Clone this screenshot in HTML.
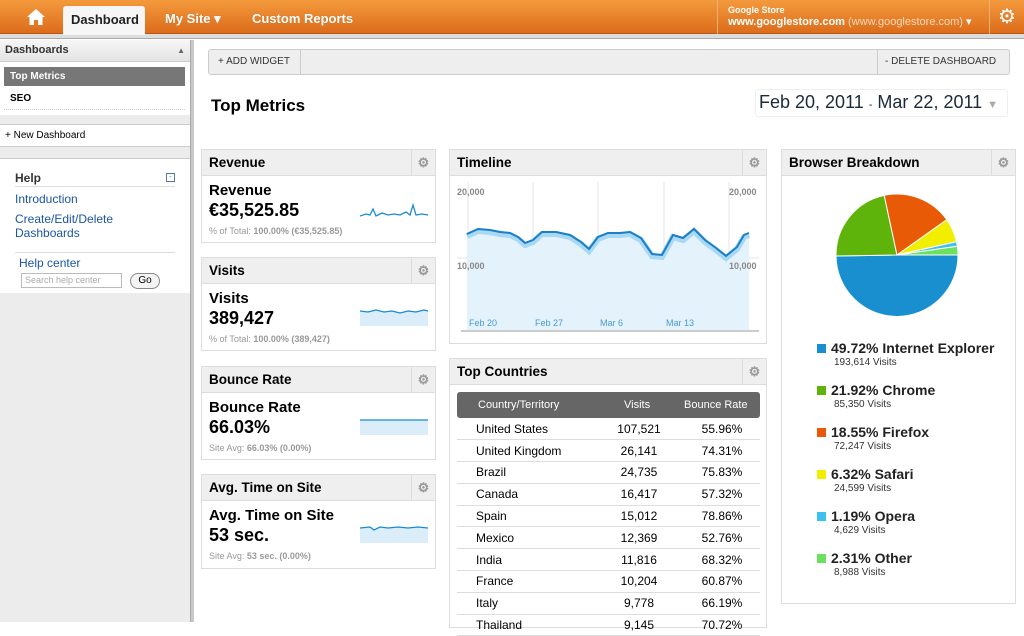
<!DOCTYPE html>
<html><head><meta charset="utf-8"><style>
*{box-sizing:border-box;margin:0;padding:0}
body{width:1024px;height:622px;overflow:hidden;font-family:"Liberation Sans",Arial,sans-serif;background:#fff;position:relative;color:#000}
.a{position:absolute}
.top{left:0;top:0;width:1024px;height:34px;background:linear-gradient(#f39a3c,#dc6c1c);border-bottom:1px solid #b85a15}
.strip{left:0;top:34px;width:1024px;height:5px;background:#ddd;border-bottom:1px solid #aaa}
.nav{color:#fff;font-size:13px;font-weight:bold;top:11px;text-shadow:0 0 1px rgba(0,0,0,.2)}
.w{border:1px solid #ddd;background:#fff}
.wh{background:#efefef;border-bottom:1px solid #ddd;height:26px;font-weight:bold;font-size:13.5px;padding:5px 7px}
.gear{position:absolute;right:0;top:0;width:24px;height:25px;border-left:1px solid #ddd;color:#999;font-size:13px;text-align:center;line-height:25px}
.mt{font-weight:bold;font-size:15px}
.mv{font-weight:bold;font-size:18px;margin-top:1px}
.ms{font-size:9px;color:#999;margin-top:5px}
.ms b{color:#999}
table{border-collapse:collapse;font-size:12px}
td{height:21.8px;border-bottom:1px solid #ddd}
.lg{font-weight:bold;font-size:14px;color:#222}
.lg i{display:inline-block;width:9px;height:9px;margin-right:5px}
.ls{font-size:10px;color:#333;margin-left:17px;margin-top:1px}
a{color:#1a55a3}
</style></head><body>
<div class="a top"></div>
<div class="a strip"></div>
<svg class="a" style="left:26px;top:8px" width="20" height="18" viewBox="0 0 20 18"><path d="M10 1 L1 9 L3.5 9 L3.5 17 L8 17 L8 12 L12 12 L12 17 L16.5 17 L16.5 9 L19 9 Z" fill="#fff"/></svg>
<div class="a" style="left:63px;top:6px;width:82px;height:29px;background:#f6f6f6;border-radius:3px 3px 0 0"></div>
<div class="a" style="left:71px;top:12px;font-size:13px;font-weight:bold;color:#222">Dashboard</div>
<div class="a nav" style="left:165px">My Site ▾</div>
<div class="a nav" style="left:252px">Custom Reports</div>
<div class="a" style="left:717px;top:0;width:1px;height:34px;background:#f7b070"></div>
<div class="a" style="left:728px;top:5px;color:#fff;font-size:9px;font-weight:bold">Google Store</div>
<div class="a" style="left:728px;top:15px;color:#fff;font-size:11px"><b>www.googlestore.com</b> <span style="color:#fbd9bb">(www.googlestore.com)</span> ▾</div>
<div class="a" style="left:989px;top:0;width:1px;height:34px;background:#f7b070"></div>
<div class="a" style="left:998px;top:4px;color:#fff;font-size:20px">⚙</div>

<!-- sidebar -->
<div class="a" style="left:0;top:40px;width:190px;height:582px;background:#ececec"></div>
<div class="a" style="left:190px;top:40px;width:4px;height:582px;background:#c8c8c8;border-left:1px solid #aaa"></div>
<div class="a" style="left:0;top:40px;width:190px;height:22px;background:linear-gradient(#f6f6f6,#e4e4e4);border-bottom:1px solid #ccc;font-size:11px;font-weight:bold;padding:4px 5px;color:#333">Dashboards<span style="float:right;font-size:8px;color:#666;margin-top:2px">▲</span></div>
<div class="a" style="left:0;top:62px;width:190px;height:53px;background:#fff"></div>
<div class="a" style="left:4px;top:67px;width:181px;height:19px;background:#777;color:#fff;font-size:10px;font-weight:bold;padding:4px 6px">Top Metrics</div>
<div class="a" style="left:10px;top:93px;font-size:10px;font-weight:bold">SEO</div>
<div class="a" style="left:4px;top:109px;width:181px;border-top:1px dotted #ccc"></div>
<div class="a" style="left:0;top:124px;width:190px;height:23px;background:#fff;border-top:1px solid #ccc;border-bottom:1px solid #ccc;font-size:10px;padding:5px 5px">+ New Dashboard</div>
<div class="a" style="left:0;top:158px;width:190px;height:135px;background:#fff;border-top:1px solid #ccc"></div>
<div class="a" style="left:15px;top:171px;font-size:12px;font-weight:bold;color:#333">Help</div>
<div class="a" style="left:166px;top:173px;width:9px;height:9px;border:1px solid #5577aa;font-size:8px;line-height:6px;text-align:center;color:#5577aa">-</div>
<div class="a" style="left:15px;top:186px;width:160px;border-top:1px solid #ddd"></div>
<div class="a" style="left:15px;top:192px;font-size:12px;line-height:14px"><a>Introduction</a><br><div style="height:6px"></div><a>Create/Edit/Delete</a><br><a>Dashboards</a></div>
<div class="a" style="left:15px;top:252px;width:160px;border-top:1px solid #ddd"></div>
<div class="a" style="left:19px;top:256px;font-size:12px"><a>Help center</a></div>
<div class="a" style="left:21px;top:273px;width:101px;height:15px;border:1px solid #bbb;font-size:9px;color:#aaa;padding:1px 3px">Search help center</div>
<div class="a" style="left:130px;top:273px;width:30px;height:16px;border:1px solid #888;border-radius:8px;font-size:10px;text-align:center;line-height:14px;background:#f4f4f4">Go</div>

<!-- toolbar -->
<div class="a" style="left:208px;top:49px;width:802px;height:26px;background:#eee;border:1px solid #ccc;border-radius:3px"></div>
<div class="a" style="left:218px;top:56px;font-size:10px;color:#333">+ ADD WIDGET</div>
<div class="a" style="left:300px;top:50px;width:1px;height:24px;background:#ccc"></div>
<div class="a" style="left:877px;top:50px;width:1px;height:24px;background:#ccc"></div>
<div class="a" style="left:885px;top:56px;font-size:10px;color:#333">- DELETE DASHBOARD</div>
<div class="a" style="left:211px;top:96px;font-size:17px;font-weight:bold">Top Metrics</div>
<div class="a" style="left:755px;top:89px;width:253px;height:28px;border:1px solid #eee;border-radius:3px"></div>
<div class="a" style="left:759px;top:92px;font-size:18px;color:#1a2a3a">Feb 20, 2011 <span style="font-size:11px">-</span> Mar 22, 2011 <span style="color:#aaa;font-size:11px">▼</span></div>

<!-- left metric widgets -->
<div class="a w" style="left:201px;top:149px;width:235px;height:94px"><div class="wh" style="position:relative">Revenue<div class="gear">⚙</div></div>
<div style="padding:6px 7px"><div class="mt">Revenue</div><div class="mv">€35,525.85</div><div class="ms">% of Total: <b>100.00% (€35,525.85)</b></div></div>
<svg class="a" style="left:156px;top:48px" width="72" height="24"><polyline points="2,18 8,16 12,17 15,11 18,18 24,15 30,17 36,16 42,17 48,14 52,17 55,7 58,17 64,16 70,17" fill="none" stroke="#1a8ad4" stroke-width="1.3"/></svg></div>

<div class="a w" style="left:201px;top:257px;width:235px;height:94px"><div class="wh" style="position:relative">Visits<div class="gear">⚙</div></div>
<div style="padding:6px 7px"><div class="mt">Visits</div><div class="mv">389,427</div><div class="ms">% of Total: <b>100.00% (389,427)</b></div></div>
<svg class="a" style="left:156px;top:48px" width="72" height="24"><polygon points="2,5 10,6 18,4 26,6 34,5 42,7 50,5 58,6 66,4 70,5 70,20 2,20" fill="#dcedfa"/><polyline points="2,5 10,6 18,4 26,6 34,5 42,7 50,5 58,6 66,4 70,5" fill="none" stroke="#1a8ad4" stroke-width="1.3"/></svg></div>

<div class="a w" style="left:201px;top:366px;width:235px;height:94px"><div class="wh" style="position:relative">Bounce Rate<div class="gear">⚙</div></div>
<div style="padding:6px 7px"><div class="mt">Bounce Rate</div><div class="mv">66.03%</div><div class="ms">Site Avg: <b>66.03% (0.00%)</b></div></div>
<svg class="a" style="left:156px;top:48px" width="72" height="24"><rect x="2" y="5" width="68" height="15" fill="#dcedfa"/><line x1="2" y1="5" x2="70" y2="5" stroke="#1a8ad4" stroke-width="1.3"/></svg></div>

<div class="a w" style="left:201px;top:474px;width:235px;height:95px"><div class="wh" style="position:relative">Avg. Time on Site<div class="gear">⚙</div></div>
<div style="padding:6px 7px"><div class="mt">Avg. Time on Site</div><div class="mv">53 sec.</div><div class="ms">Site Avg: <b>53 sec. (0.00%)</b></div></div>
<svg class="a" style="left:156px;top:48px" width="72" height="24"><polygon points="2,5 12,4 16,7 22,4 30,5 40,4 50,5 60,4 70,5 70,20 2,20" fill="#dcedfa"/><polyline points="2,5 12,4 16,7 22,4 30,5 40,4 50,5 60,4 70,5" fill="none" stroke="#1a8ad4" stroke-width="1.3"/></svg></div>

<!-- timeline -->
<div class="a w" style="left:449px;top:149px;width:318px;height:195px"><div class="wh" style="position:relative">Timeline<div class="gear">⚙</div></div></div>
<svg class="a" style="left:449px;top:175px" width="318" height="168">
<g stroke="#e4e4e4" stroke-width="1"><line x1="19" y1="7" x2="19" y2="156"/><line x1="84" y1="7" x2="84" y2="156"/><line x1="149" y1="7" x2="149" y2="156"/><line x1="215" y1="7" x2="215" y2="156"/><line x1="280" y1="7" x2="280" y2="156"/><line x1="8" y1="83" x2="310" y2="83"/></g>
<polygon fill="#e3f2fb" points="18,59 29,54 41,55 51,57 61,58 69,62 76,68 84,65 93,57 107,57 121,60 132,67 140,74 149,62 159,58 171,58 181,57 192,63 203,79 213,80 224,60 234,63 245,54 256,65 267,73 277,81 288,72 295,60 300,58 300,156 18,156"/>
<polyline fill="none" stroke="#a8d8f3" stroke-width="6" points="18,61 29,56 41,57 51,59 61,60 69,64 76,70 84,67 93,59 107,59 121,62 132,69 140,76 149,64 159,60 171,60 181,59 192,65 203,81 213,82 224,62 234,65 245,56 256,67 267,75 277,83 288,74 295,62 300,60"/>
<polyline fill="none" stroke="#1a7fc4" stroke-width="2" points="18,59 29,54 41,55 51,57 61,58 69,62 76,68 84,65 93,57 107,57 121,60 132,67 140,74 149,62 159,58 171,58 181,57 192,63 203,79 213,80 224,60 234,63 245,54 256,65 267,73 277,81 288,72 295,60 300,58"/>
<line x1="12" y1="156" x2="310" y2="156" stroke="#ccc" stroke-width="2"/>
<g font-size="9" fill="#888" font-weight="bold" font-family="Liberation Sans"><text x="8" y="20">20,000</text><text x="280" y="20">20,000</text><text x="8" y="94">10,000</text><text x="280" y="94">10,000</text></g>
<g font-size="9" fill="#4a9ad4" font-family="Liberation Sans"><text x="20" y="151">Feb 20</text><text x="86" y="151">Feb 27</text><text x="151" y="151">Mar 6</text><text x="217" y="151">Mar 13</text></g>
</svg>

<!-- top countries -->
<div class="a w" style="left:449px;top:358px;width:318px;height:270px"><div class="wh" style="position:relative">Top Countries<div class="gear">⚙</div></div></div>
<div class="a" style="left:457px;top:392px;width:303px;height:26px;background:#666;border-radius:3px;color:#fff;font-size:11px"><span class="a" style="left:21px;top:7px">Country/Territory</span><span class="a" style="left:167px;top:7px">Visits</span><span class="a" style="left:227px;top:7px">Bounce Rate</span></div>
<table class="a" style="left:457px;top:418px;width:303px">
<colgroup><col style="width:137px"><col style="width:90px"><col></colgroup>
<tr><td style="padding-left:19px">United States</td><td align="center">107,521</td><td align="center">55.96%</td></tr>
<tr><td style="padding-left:19px">United Kingdom</td><td align="center">26,141</td><td align="center">74.31%</td></tr>
<tr><td style="padding-left:19px">Brazil</td><td align="center">24,735</td><td align="center">75.83%</td></tr>
<tr><td style="padding-left:19px">Canada</td><td align="center">16,417</td><td align="center">57.32%</td></tr>
<tr><td style="padding-left:19px">Spain</td><td align="center">15,012</td><td align="center">78.86%</td></tr>
<tr><td style="padding-left:19px">Mexico</td><td align="center">12,369</td><td align="center">52.76%</td></tr>
<tr><td style="padding-left:19px">India</td><td align="center">11,816</td><td align="center">68.32%</td></tr>
<tr><td style="padding-left:19px">France</td><td align="center">10,204</td><td align="center">60.87%</td></tr>
<tr><td style="padding-left:19px">Italy</td><td align="center">9,778</td><td align="center">66.19%</td></tr>
<tr><td style="padding-left:19px">Thailand</td><td align="center">9,145</td><td align="center">70.72%</td></tr>
</table>

<!-- browser -->
<div class="a w" style="left:781px;top:149px;width:235px;height:455px"><div class="wh" style="position:relative">Browser Breakdown<div class="gear">⚙</div></div></div>
<svg class="a" style="left:781px;top:175px" width="234" height="160">
<g transform="translate(-781,-175)" stroke="#fff" stroke-width="1">
<path d="M897,255 L958,255 A61,61 0 0 1 836,256 Z" fill="#1a8fd0"/>
<path d="M897,255 L836,256 A61,61 0 0 1 884.2,195.4 Z" fill="#5eb40a"/>
<path d="M897,255 L884.2,195.4 A61,61 0 0 1 946.8,219.7 Z" fill="#e85a05"/>
<path d="M897,255 L946.8,219.7 A61,61 0 0 1 956.5,241.7 Z" fill="#f2ee00"/>
<path d="M897,255 L956.5,241.7 A61,61 0 0 1 957.4,246.2 Z" fill="#3cc0ee"/>
<path d="M897,255 L957.4,246.2 A61,61 0 0 1 958,255 Z" fill="#6ee060"/>
</g></svg>
<div class="a" style="left:817px;top:340px">
<div class="lg"><i style="background:#1a8fd0"></i>49.72% Internet Explorer</div><div class="ls">193,614 Visits</div>
<div class="lg" style="margin-top:14px"><i style="background:#5eb40a"></i>21.92% Chrome</div><div class="ls">85,350 Visits</div>
<div class="lg" style="margin-top:14px"><i style="background:#e85a05"></i>18.55% Firefox</div><div class="ls">72,247 Visits</div>
<div class="lg" style="margin-top:14px"><i style="background:#f2ee00"></i>6.32% Safari</div><div class="ls">24,599 Visits</div>
<div class="lg" style="margin-top:14px"><i style="background:#3cc0ee"></i>1.19% Opera</div><div class="ls">4,629 Visits</div>
<div class="lg" style="margin-top:14px"><i style="background:#6ee060"></i>2.31% Other</div><div class="ls">8,988 Visits</div>
</div>
</body></html>
